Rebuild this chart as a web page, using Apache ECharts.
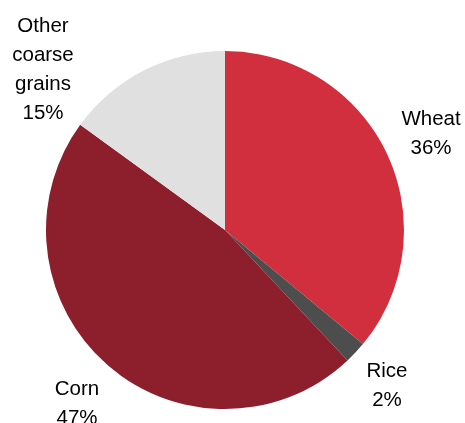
<!DOCTYPE html>
<html><head><meta charset="utf-8">
<script src="https://cdn.jsdelivr.net/npm/echarts@6/dist/echarts.min.js"></script>
<style>html,body{margin:0;padding:0;background:#fff}#c{width:465px;height:423px}</style>
</head><body><div id="c"></div>
<script>
const categories = ['Wheat', 'Rice', 'Corn', 'Other\ncoarse\ngrains'];
const shares = [36, 2, 47, 15];
const colors = ['#D12F3D', '#4D4D4D', '#8D1E2B', '#E0E0E0'];
// label centres (layout)
const labelPos = [[431, 134], [387, 386], [77, 404], [43, 70]];

const chart = echarts.init(document.getElementById('c'), null, {renderer: 'canvas'});
chart.setOption({
  animation: false,
  series: [{
    type: 'pie',
    center: [225, 230],
    radius: [0, 179],
    startAngle: 90,
    clockwise: true,
    silent: true,
    avoidLabelOverlap: false,
    data: categories.map((n, i) => ({name: n, value: shares[i], itemStyle: {color: colors[i]}})),
    itemStyle: {borderWidth: 0},
    label: {
      show: true,
      position: 'outside',
      formatter: p => p.name + '\n' + p.value + '%',
      fontFamily: 'Liberation Sans, Arial, sans-serif',
      fontSize: 20.5,
      lineHeight: 29,
      color: '#000',
      align: 'center',
      overflow: 'none',
      width: 120,
      bleedMargin: 0
    },
    labelLine: {show: false},
    labelLayout: p => ({
      x: labelPos[p.dataIndex][0],
      y: labelPos[p.dataIndex][1],
      align: 'center',
      verticalAlign: 'middle'
    })
  }]
});
</script></body></html>
